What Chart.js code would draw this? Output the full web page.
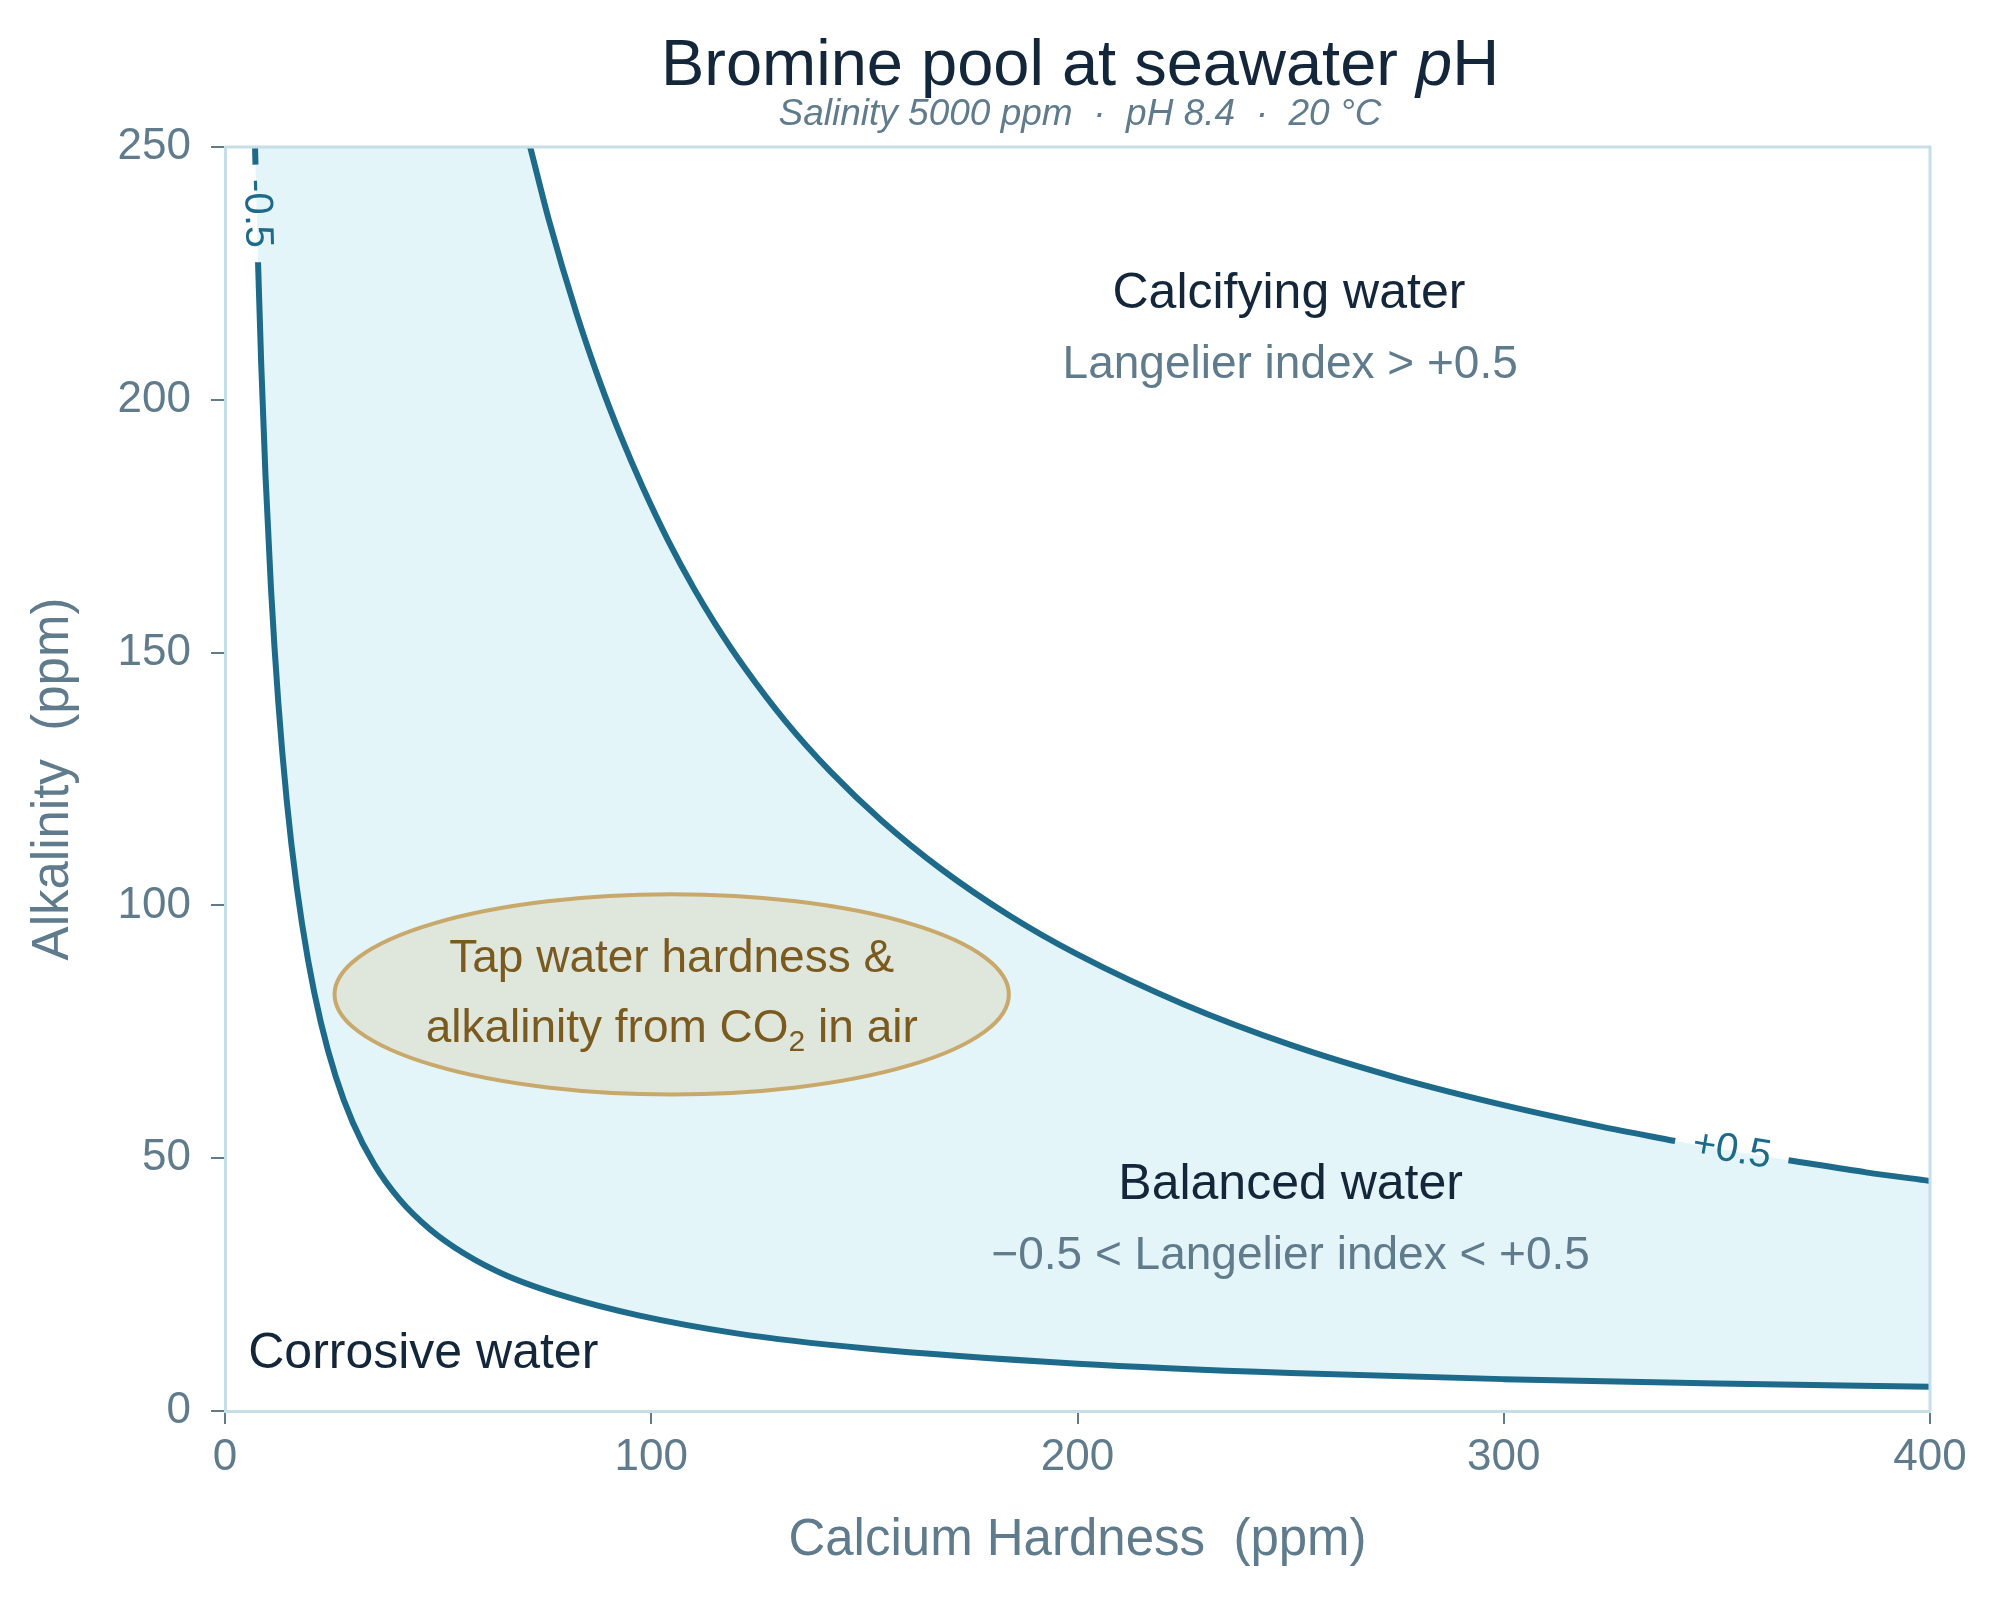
<!DOCTYPE html>
<html>
<head>
<meta charset="utf-8">
<title>Bromine pool at seawater pH</title>
<script src="https://cdn.jsdelivr.net/npm/chart.js@4.4.1/dist/chart.umd.min.js"></script>
<style>
  html, body { margin: 0; padding: 0; background: #ffffff; }
  #wrap { width: 2000px; height: 1600px; position: relative; }
</style>
</head>
<body>
<div id="wrap"><canvas id="lsiChart"></canvas></div>
<script>
// Valores (ppm)
const xTickValues = [0, 100, 200, 300, 400];
const yTickValues = [0, 50, 100, 150, 200, 250];

// Curva LSI = -0.5 (límite con agua corrosiva)
const lowerCa  = [7.05, 7.15, 7.75, 8.5, 9.5, 10.8, 12.5, 14.5, 16.8, 19.5, 22.5, 26, 30, 35, 41, 48, 56, 66, 80, 97, 120, 150, 200, 250, 300, 350, 400];
const lowerAlk = [250, 246.5, 227.2, 207, 185, 162.5, 140.2, 120.6, 103.8, 89.1, 76.8, 66.1, 57, 48.8, 41.8, 36, 31.2, 26.8, 22.6, 18.9, 15.35, 12.4, 9.35, 7.5, 6.3, 5.42, 4.8];

// Curva LSI = +0.5 (límite con agua incrustante)
const upperCa  = [71.6, 76, 82.5, 88, 93, 98, 104, 110, 115, 122, 131.5, 142, 154, 168, 184, 200, 225, 250, 275, 300, 322.6, 340.2, 366.8, 385, 400];
const upperAlk = [250, 235.5, 217, 203.4, 192.5, 182.7, 172.1, 162.7, 155.7, 146.9, 136.4, 126.5, 116.8, 107.2, 98, 90.3, 80.4, 72.4, 65.9, 60.5, 56.3, 53.4, 49.6, 47.2, 45.5];

// Tramos de curva sin trazo, donde va la etiqueta
const lowerGap = [7.15, 7.75];
const upperGap = [340.2, 366.8];

// Zona de agua del grifo (centro y semiejes, en ppm)
const tapCenter = [104.8, 82.4];
const tapRadius = [79.1, 19.8];

const FONT = '"Liberation Sans", Arial, sans-serif';
const CURVE = '#1d6a8b';
const FILL = '#e3f5f8';
const DARK = '#13263a';
const GREY = '#5f7b8c';
const FRAME = '#c6dee6';

Chart.defaults.font.family = FONT;
Chart.defaults.color = GREY;

function toPoints(xs, ys) {
    return xs.map((x, i) => ({ x: x, y: ys[i] }));
}

// Texto con partes en cursiva o subíndice, centrado en cx
function drawRuns(ctx, runs, cx, y, size, color) {
    const fontFor = r => (r.italic ? 'italic ' : '') + (r.sub ? Math.round(size * 0.66) : size) + 'px ' + FONT;
    let total = 0;
    runs.forEach(r => { ctx.font = fontFor(r); total += ctx.measureText(r.t).width; });
    let x = cx - total / 2;
    ctx.fillStyle = color;
    ctx.textAlign = 'left';
    ctx.textBaseline = 'alphabetic';
    runs.forEach(r => {
        ctx.font = fontFor(r);
        ctx.fillText(r.t, x, y + (r.sub ? size * 0.2 : 0));
        x += ctx.measureText(r.t).width;
    });
}

const regionLabels = [
    { text: 'Calcifying water', x: 249.6, y: 218.1, size: 50, color: DARK, align: 'center' },
    { text: 'Langelier index > +0.5', x: 249.9, y: 204.3, size: 46, color: GREY, align: 'center' },
    { text: 'Balanced water', x: 250, y: 41.9, size: 50, color: DARK, align: 'center' },
    { text: '\u22120.5 < Langelier index < +0.5', x: 250, y: 28.1, size: 46, color: GREY, align: 'center' },
    { text: 'Corrosive water', x: 5.45, y: 8.5, size: 50, color: DARK, align: 'left' }
];

const curveLabels = [
    { text: '-0.5', xs: lowerCa, ys: lowerAlk, gap: lowerGap },
    { text: '+0.5', xs: upperCa, ys: upperAlk, gap: upperGap }
];

const annotationsPlugin = {
    id: 'annotations',
    afterDatasetsDraw(chart) {
        const { ctx, chartArea: a } = chart;
        const sx = chart.scales.x;
        const sy = chart.scales.y;
        ctx.save();

        // Borde superior y derecho del área
        ctx.strokeStyle = FRAME;
        ctx.lineWidth = 3;
        ctx.beginPath();
        ctx.moveTo(a.left, a.top);
        ctx.lineTo(a.right, a.top);
        ctx.lineTo(a.right, a.bottom);
        ctx.stroke();

        // Elipse del agua del grifo
        const ex = sx.getPixelForValue(tapCenter[0]);
        const ey = sy.getPixelForValue(tapCenter[1]);
        const rx = sx.getPixelForValue(tapCenter[0] + tapRadius[0]) - ex;
        const ry = ey - sy.getPixelForValue(tapCenter[1] + tapRadius[1]);
        ctx.beginPath();
        ctx.ellipse(ex, ey, rx, ry, 0, 0, Math.PI * 2);
        ctx.fillStyle = '#dfe6dc';
        ctx.fill();
        ctx.strokeStyle = '#c9a86b';
        ctx.lineWidth = 4;
        ctx.stroke();
        drawRuns(ctx, [{ t: 'Tap water hardness &' }], ex, sy.getPixelForValue(86.9), 46, '#7a5a1f');
        drawRuns(ctx, [{ t: 'alkalinity from CO' }, { t: '2', sub: true }, { t: ' in air' }],
            ex, sy.getPixelForValue(73.0), 46, '#7a5a1f');

        // Rótulos de las zonas
        regionLabels.forEach(l => {
            ctx.font = l.size + 'px ' + FONT;
            ctx.fillStyle = l.color;
            ctx.textAlign = l.align;
            ctx.textBaseline = 'alphabetic';
            ctx.fillText(l.text, sx.getPixelForValue(l.x), sy.getPixelForValue(l.y));
        });

        // Etiquetas sobre las curvas, en el hueco del trazo
        curveLabels.forEach(l => {
            const i0 = l.xs.indexOf(l.gap[0]);
            const i1 = l.xs.indexOf(l.gap[1]);
            const x0 = sx.getPixelForValue(l.xs[i0]), y0 = sy.getPixelForValue(l.ys[i0]);
            const x1 = sx.getPixelForValue(l.xs[i1]), y1 = sy.getPixelForValue(l.ys[i1]);
            ctx.save();
            ctx.translate((x0 + x1) / 2, (y0 + y1) / 2);
            ctx.rotate(Math.atan2(y1 - y0, x1 - x0));
            ctx.font = '40px ' + FONT;
            ctx.fillStyle = CURVE;
            ctx.textAlign = 'center';
            ctx.textBaseline = 'middle';
            ctx.fillText(l.text, 0, 0);
            ctx.restore();
        });
        ctx.restore();
    },
    afterDraw(chart) {
        const { ctx, chartArea: a } = chart;
        const cx = (a.left + a.right) / 2 + 2.5;
        ctx.save();
        drawRuns(ctx, [{ t: 'Bromine pool at seawater ' }, { t: 'p', italic: true }, { t: 'H' }], cx, 85, 65, DARK);
        drawRuns(ctx, [{ t: 'Salinity 5000 ppm  \u00b7  pH 8.4  \u00b7  20 \u00b0C', italic: true }], cx, 125, 37, GREY);
        ctx.restore();
    }
};

// Trazo de una curva (sin relleno), partido en dos tramos por la etiqueta
function curveLines(label, xs, ys, gap) {
    const cut0 = xs.indexOf(gap[0]) + 1;
    const cut1 = xs.indexOf(gap[1]);
    const base = {
        borderColor: CURVE,
        borderWidth: 6,
        fill: false,
        pointRadius: 0,
        cubicInterpolationMode: 'monotone'
    };
    return [
        Object.assign({ label: label + ' a', data: toPoints(xs.slice(0, cut0), ys.slice(0, cut0)) }, base),
        Object.assign({ label: label + ' b', data: toPoints(xs.slice(cut1), ys.slice(cut1)) }, base)
    ];
}

// Relleno hasta el borde superior (sin trazo)
function curveFill(label, xs, ys, color) {
    return {
        label: label,
        data: toPoints(xs, ys),
        borderWidth: 0,
        borderColor: 'rgba(0,0,0,0)',
        backgroundColor: color,
        fill: 'end',
        pointRadius: 0,
        cubicInterpolationMode: 'monotone'
    };
}

const ctx = document.getElementById('lsiChart').getContext('2d');

// Se dibujan del último al primero: rellenos debajo, trazos encima
const lsiChart = new Chart(ctx, {
    type: 'line',
    data: {
        datasets: [
            ...curveLines('LSI +0.5', upperCa, upperAlk, upperGap),
            ...curveLines('LSI -0.5', lowerCa, lowerAlk, lowerGap),
            curveFill('Calcifying', upperCa, upperAlk, '#ffffff'),
            curveFill('Balanced', lowerCa, lowerAlk, FILL)
        ]
    },
    options: {
        responsive: true,
        maintainAspectRatio: false,
        devicePixelRatio: 1,
        animation: false,
        layout: {
            padding: { top: 147, right: 70, bottom: 0, left: 0 }
        },
        scales: {
            x: {
                type: 'linear',
                min: 0,
                max: 400,
                afterBuildTicks: axis => { axis.ticks = xTickValues.map(v => ({ value: v })); },
                afterFit: axis => { axis.height = 189; },
                grid: { drawOnChartArea: false, drawTicks: true, tickLength: 13, color: GREY, lineWidth: 2 },
                border: { display: true, color: FRAME, width: 3 },
                ticks: { font: { size: 44 }, color: GREY, padding: 7, maxRotation: 0 },
                title: {
                    display: true,
                    text: 'Calcium Hardness  (ppm)',
                    font: { size: 51 },
                    color: GREY,
                    padding: { top: 0, bottom: 28 }
                }
            },
            y: {
                type: 'linear',
                min: 0,
                max: 250,
                afterBuildTicks: axis => { axis.ticks = yTickValues.map(v => ({ value: v })); },
                afterFit: axis => { axis.width = 225; },
                grid: { drawOnChartArea: false, drawTicks: true, tickLength: 14, color: GREY, lineWidth: 2 },
                border: { display: true, color: FRAME, width: 3 },
                ticks: { font: { size: 44 }, color: GREY, padding: 20 },
                title: {
                    display: true,
                    text: 'Alkalinity  (ppm)',
                    font: { size: 51 },
                    color: GREY,
                    padding: { top: 23, bottom: 0 }
                }
            }
        },
        plugins: {
            legend: { display: false },
            tooltip: { enabled: false },
            title: { display: false }
        }
    },
    plugins: [annotationsPlugin]
});
</script>
</body>
</html>
